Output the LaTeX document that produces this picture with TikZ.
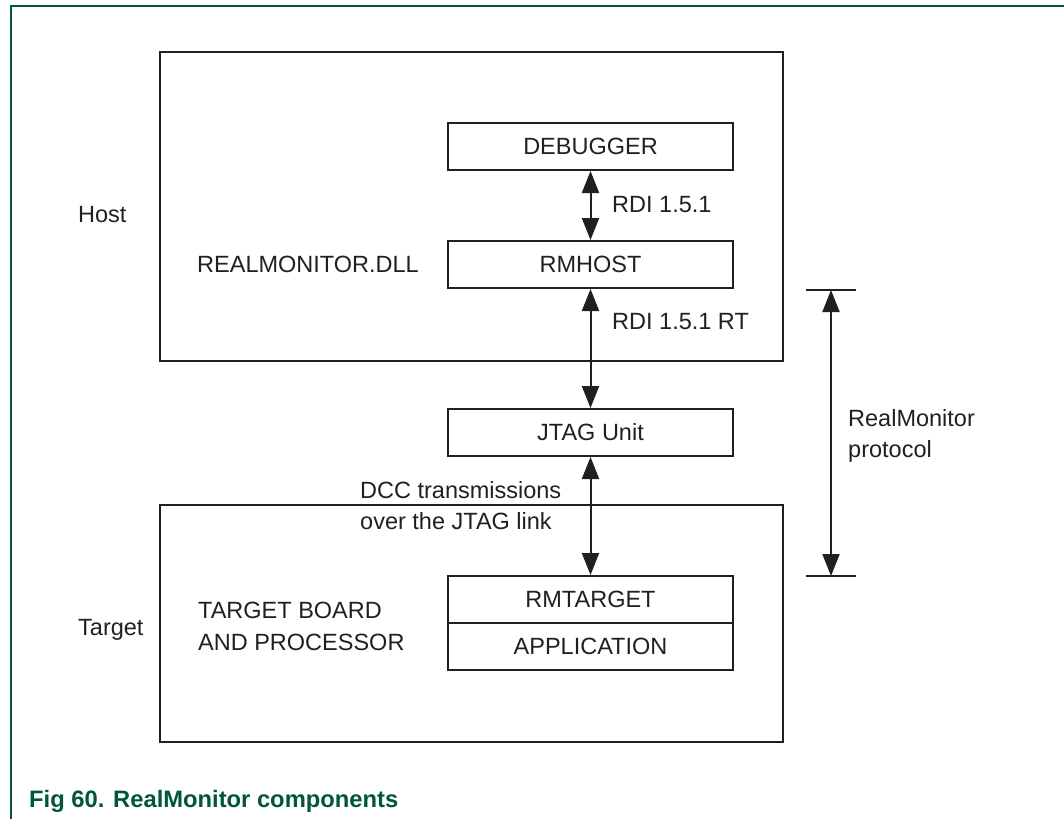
\documentclass[tikz,border=0pt]{standalone}
\usepackage{fontspec}
\setmainfont{Liberation Sans}
\usetikzlibrary{arrows.meta}
\definecolor{nxpgreen}{RGB}{0,85,62}
\definecolor{ink}{RGB}{35,31,32}
\begin{document}
\begin{tikzpicture}[x=1pt,y=-1pt,
  txt/.style={font=\fontsize{23.5}{31}\selectfont, text=ink},
  compbox/.style={txt, draw=ink, line width=2pt, minimum width=285pt, minimum height=47pt, inner sep=0pt},
  bigbox/.style={draw=ink, line width=2pt, inner sep=0pt, anchor=north west},
  lbl/.style={txt, inner sep=0pt, align=left, anchor=west},
  dbl/.style={ink, line width=2pt, {Triangle[length=22pt,width=17pt]}-{Triangle[length=22pt,width=17pt]}},
  tick/.style={ink, line width=1.6pt}
]
\useasboundingbox (0,0) rectangle (1064,819);
% page frame
\draw[nxpgreen, line width=2pt] (1064,6) -- (11,6) -- (11,819);

% large boxes
\node[bigbox, minimum width=623pt, minimum height=309pt] (host) at (159,51) {};
\node[bigbox, minimum width=623pt, minimum height=237pt] (target) at (159,504) {};

% component boxes
\node[compbox] (debugger) at (590.5,146.5) {DEBUGGER};
\node[compbox] (rmhost) at (590.5,264.5) {RMHOST};
\node[compbox] (jtag) at (590.5,432.5) {JTAG Unit};
\node[compbox] (rmtarget) at (590.5,599.5) {RMTARGET};
\node[compbox] (application) at (590.5,646.5) {APPLICATION};

% connectors
\draw[dbl] (debugger.south) -- (rmhost.north);
\draw[dbl] (rmhost.south) -- (jtag.north);
\draw[dbl] (jtag.south) -- (rmtarget.north);

% labels
\node[lbl] (hostlbl) at (78,215) {Host};
\node[lbl] (targetlbl) at (78,630) {Target};
\node[lbl] (dll) at (197,264.5) {REALMONITOR.DLL};
\node[lbl, font=\fontsize{23.5}{32}\selectfont] (board) at (198,626.5) {TARGET BOARD\\AND PROCESSOR};
\node[lbl] (rdi1) at (612,205) {RDI 1.5.1};
\node[lbl] (rdi2) at (612,322) {RDI 1.5.1 RT};
\node[lbl] (dcc) at (360,506) {DCC transmissions\\over the JTAG link};

% RealMonitor protocol dimension
\coordinate (dtop) at (831,290);
\coordinate (dbot) at (831,576);
\coordinate (dtl) at (806,290);
\coordinate (dtr) at (856,290);
\coordinate (dbl) at (806,576);
\coordinate (dbr) at (856,576);
\draw[tick] (dtl) -- (dtr);
\draw[tick] (dbl) -- (dbr);
\draw[dbl] (dtop) -- (dbot);
\node[lbl] (proto) at (848,436) {RealMonitor\\protocol};

% caption
\node[anchor=base west, inner sep=0pt, text=nxpgreen, font=\bfseries\fontsize{23.75}{29}\selectfont] (caption) at (29,807) {\makebox[84pt][l]{Fig 60.}RealMonitor components};
\end{tikzpicture}
\end{document}
